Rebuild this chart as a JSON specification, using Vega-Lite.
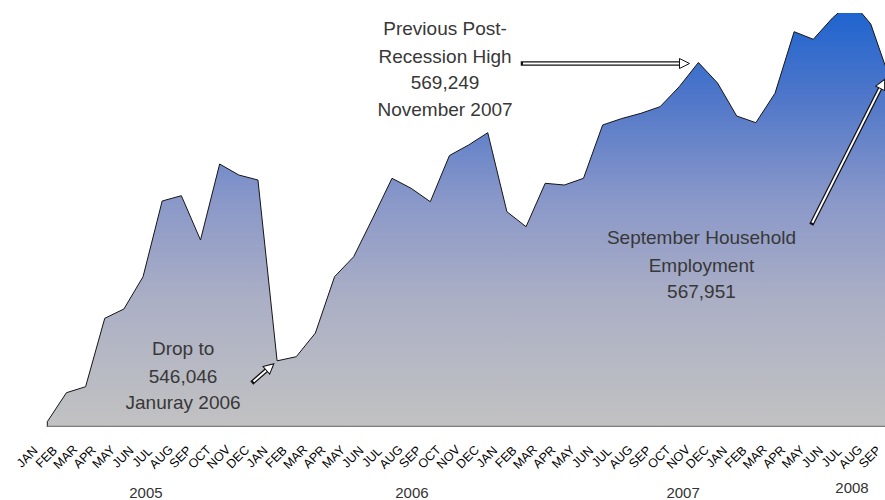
{
  "$schema": "https://vega.github.io/schema/vega-lite/v6.json",
  "width": 865,
  "height": 414,
  "autosize": {"type": "none"},
  "padding": {"left": 20, "top": 13, "right": 0, "bottom": 73},
  "background": "white",
  "config": {"view": {"stroke": null}},
  "datasets": {
    "emp": [
      {"m": 0, "month": "JAN", "year": 2005, "v": 541311},
      {"m": 1, "month": "FEB", "year": 2005, "v": 543567},
      {"m": 2, "month": "MAR", "year": 2005, "v": 544034},
      {"m": 3, "month": "APR", "year": 2005, "v": 549354},
      {"m": 4, "month": "MAY", "year": 2005, "v": 550077},
      {"m": 5, "month": "JUN", "year": 2005, "v": 552589},
      {"m": 6, "month": "JUL", "year": 2005, "v": 558477},
      {"m": 7, "month": "AUG", "year": 2005, "v": 558890},
      {"m": 8, "month": "SEP", "year": 2005, "v": 555444},
      {"m": 9, "month": "OCT", "year": 2005, "v": 561355},
      {"m": 10, "month": "NOV", "year": 2005, "v": 560500},
      {"m": 11, "month": "DEC", "year": 2005, "v": 560111},
      {"m": 12, "month": "JAN", "year": 2006, "v": 546046},
      {"m": 13, "month": "FEB", "year": 2006, "v": 546367},
      {"m": 14, "month": "MAR", "year": 2006, "v": 548210},
      {"m": 15, "month": "APR", "year": 2006, "v": 552589},
      {"m": 16, "month": "MAY", "year": 2006, "v": 554145},
      {"m": 17, "month": "JUN", "year": 2006, "v": 557155},
      {"m": 18, "month": "JUL", "year": 2006, "v": 560243},
      {"m": 19, "month": "AUG", "year": 2006, "v": 559465},
      {"m": 20, "month": "SEP", "year": 2006, "v": 558423},
      {"m": 21, "month": "OCT", "year": 2006, "v": 562016},
      {"m": 22, "month": "NOV", "year": 2006, "v": 562833},
      {"m": 23, "month": "DEC", "year": 2006, "v": 563790},
      {"m": 24, "month": "JAN", "year": 2007, "v": 557645},
      {"m": 25, "month": "FEB", "year": 2007, "v": 556478},
      {"m": 26, "month": "MAR", "year": 2007, "v": 559854},
      {"m": 27, "month": "APR", "year": 2007, "v": 559722},
      {"m": 28, "month": "MAY", "year": 2007, "v": 560243},
      {"m": 29, "month": "JUN", "year": 2007, "v": 564389},
      {"m": 30, "month": "JUL", "year": 2007, "v": 564894},
      {"m": 31, "month": "AUG", "year": 2007, "v": 565299},
      {"m": 32, "month": "SEP", "year": 2007, "v": 565812},
      {"m": 33, "month": "OCT", "year": 2007, "v": 567368},
      {"m": 34, "month": "NOV", "year": 2007, "v": 569249},
      {"m": 35, "month": "DEC", "year": 2007, "v": 567655},
      {"m": 36, "month": "JAN", "year": 2008, "v": 565089},
      {"m": 37, "month": "FEB", "year": 2008, "v": 564568},
      {"m": 38, "month": "MAR", "year": 2008, "v": 566854},
      {"m": 39, "month": "APR", "year": 2008, "v": 571646},
      {"m": 40, "month": "MAY", "year": 2008, "v": 571054},
      {"m": 41, "month": "JUN", "year": 2008, "v": 572711},
      {"m": 42, "month": "JUL", "year": 2008, "v": 574033},
      {"m": 43, "month": "AUG", "year": 2008, "v": 572244},
      {"m": 44, "month": "SEP", "year": 2008, "v": 567951}
    ],
    "arrows": [
      {"name": "high", "x1": 24.84, "y1": 569172, "x2": 33.0, "y2": 569172, "hx": 33.274, "hy": 569172, "angle": 0},
      {"name": "drop", "x1": 10.768, "y1": 544438, "x2": 11.634, "y2": 545566, "hx": 11.634, "hy": 545566, "angle": -41.5},
      {"name": "sept", "x1": 39.948, "y1": 556789, "x2": 43.61, "y2": 567585, "hx": 43.61, "hy": 567585, "angle": -63.2}
    ],
    "notes": [
      {"text": "Previous Post-", "i": 20.77, "v": 571389},
      {"text": "Recession High", "i": 20.77, "v": 569188},
      {"text": "569,249", "i": 20.77, "v": 567165},
      {"text": "November 2007", "i": 20.77, "v": 565089},
      {"text": "Drop to", "i": 7.09, "v": 546499},
      {"text": "546,046", "i": 7.09, "v": 544345},
      {"text": "Januray 2006", "i": 7.09, "v": 542276},
      {"text": "September Household", "i": 34.16, "v": 555110},
      {"text": "Employment", "i": 34.16, "v": 552978},
      {"text": "567,951", "i": 34.16, "v": 550909}
    ],
    "years": [
      {"text": "2005", "i": 5.15, "v": 535766},
      {"text": "2006", "i": 19.04, "v": 535766},
      {"text": "2007", "i": 33.2, "v": 535766},
      {"text": "2008", "i": 42.02, "v": 536155}
    ]
  },
  "layer": [
    {
      "data": {"name": "emp"},
      "mark": {
        "type": "area",
        "clip": true,
        "stroke": "#151515",
        "strokeWidth": 1,
        "fill": {
          "gradient": "linear",
          "x1": 0, "y1": 1, "x2": 0, "y2": 0,
          "stops": [
            {"offset": 0, "color": "#c2c2c2"},
            {"offset": 0.3, "color": "#abafc5"},
            {"offset": 0.53, "color": "#8a98c9"},
            {"offset": 0.77, "color": "#5077c9"},
            {"offset": 1, "color": "#1862d0"}
          ]
        }
      },
      "encoding": {
        "x": {
          "field": "m", "type": "quantitative",
          "scale": {"domain": [-1.4256, 43.744], "nice": false, "zero": false},
          "axis": null
        },
        "y": {
          "field": "v", "type": "quantitative",
          "scale": {"domain": [540900, 573100], "nice": false, "zero": false},
          "axis": null
        },
        "y2": {"datum": 540900}
      }
    },
    {
      "data": {"values": [{"a": 0, "b": 44, "base": 540900}]},
      "mark": {"type": "rule", "clip": true, "stroke": "#7d7d7d", "strokeWidth": 2.5},
      "encoding": {
        "x": {"field": "a", "type": "quantitative", "axis": null},
        "x2": {"field": "b"},
        "y": {"field": "base", "type": "quantitative", "axis": null}
      }
    },
    {
      "data": {"name": "emp"},
      "mark": {"type": "text", "font": "Liberation Sans", "fontSize": 12.5, "color": "#000000", "align": "center", "baseline": "middle", "angle": -45, "dx": -14.14, "dy": -14.14},
      "encoding": {
        "x": {"field": "m", "type": "quantitative", "axis": null},
        "y": {"datum": 538566, "type": "quantitative", "axis": null},
        "text": {"field": "month"}
      }
    },
    {
      "data": {"name": "arrows"},
      "mark": {"type": "rule", "stroke": "#111111", "strokeWidth": 4.5, "strokeCap": "square"},
      "encoding": {
        "x": {"field": "x1", "type": "quantitative", "axis": null},
        "y": {"field": "y1", "type": "quantitative", "axis": null},
        "x2": {"field": "x2"},
        "y2": {"field": "y2"}
      }
    },
    {
      "data": {"name": "arrows"},
      "mark": {"type": "rule", "stroke": "#ffffff", "strokeWidth": 2, "strokeCap": "butt"},
      "encoding": {
        "x": {"field": "x1", "type": "quantitative", "axis": null},
        "y": {"field": "y1", "type": "quantitative", "axis": null},
        "x2": {"field": "x2"},
        "y2": {"field": "y2"}
      }
    },
    {
      "data": {"name": "arrows"},
      "mark": {"type": "point", "shape": "M-1,-1L1,0L-1,1Z", "filled": true, "fill": "#ffffff", "stroke": "#111111", "strokeWidth": 1, "size": 100, "opacity": 1},
      "encoding": {
        "x": {"field": "hx", "type": "quantitative", "axis": null},
        "y": {"field": "hy", "type": "quantitative", "axis": null},
        "angle": {"field": "angle", "type": "quantitative", "scale": null}
      }
    },
    {
      "data": {"name": "notes"},
      "mark": {"type": "text", "font": "Liberation Sans", "fontSize": 19, "color": "#383838", "align": "center", "baseline": "alphabetic"},
      "encoding": {
        "x": {"field": "i", "type": "quantitative", "axis": null},
        "y": {"field": "v", "type": "quantitative", "axis": null},
        "text": {"field": "text"}
      }
    },
    {
      "data": {"name": "years"},
      "mark": {"type": "text", "font": "Liberation Sans", "fontSize": 15, "color": "#333333", "align": "center", "baseline": "middle"},
      "encoding": {
        "x": {"field": "i", "type": "quantitative", "axis": null},
        "y": {"field": "v", "type": "quantitative", "axis": null},
        "text": {"field": "text"}
      }
    }
  ]
}
